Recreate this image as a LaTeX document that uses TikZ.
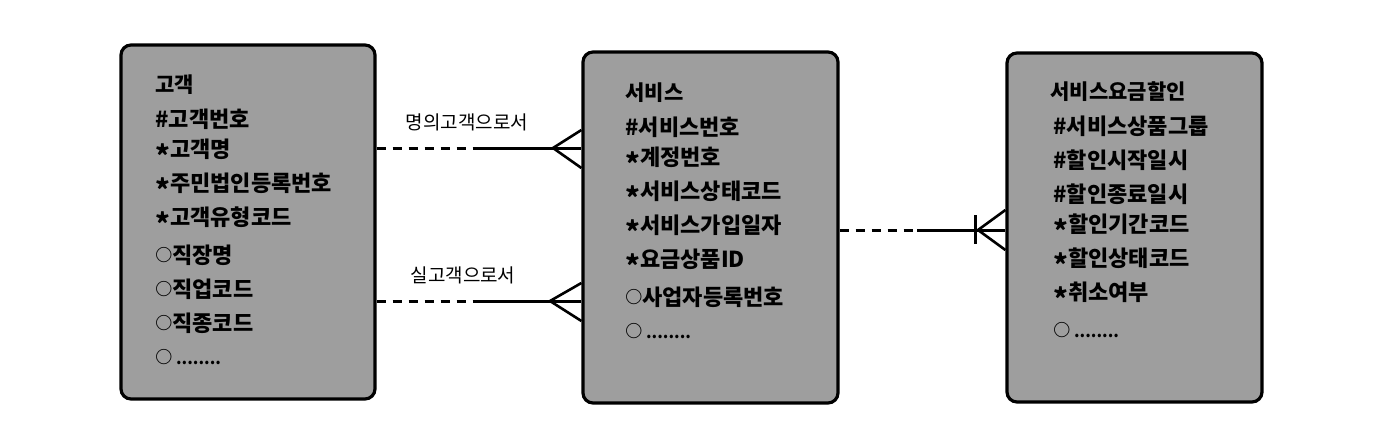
\documentclass[tikz,border=0pt]{standalone}
\usepackage{fontspec}
\usetikzlibrary{calc}
\setmainfont{Noto Sans CJK KR}
\newcommand{\ak}{{\fontsize{14}{14}\selectfont\raisebox{-0.32em}{*}}}
\newcommand{\oc}{{\fontsize{8.5}{8}\selectfont\raisebox{0.1em}{○}}}
\newcommand{\dd}{\,{\fontsize{8}{8}\selectfont ........}}
\begin{document}
\begin{tikzpicture}[x=0.5pt,y=-0.5pt,
  entity/.style={draw=black, line width=1.6pt, rounded corners=5pt, fill=black!38, inner sep=0},
  attr/.style={anchor=west, font=\fontsize{11}{12}\selectfont\bfseries, inner sep=0},
  ttl/.style={anchor=west, font=\fontsize{10.5}{12}\selectfont\bfseries, inner sep=0},
  lbl/.style={font=\fontsize{9.5}{11}\selectfont, inner sep=0},
  rel/.style={line width=1.5pt},
  reld/.style={line width=1.5pt, dash pattern=on 4.5pt off 3.5pt},
  foot/.style={line width=1.3pt}]
\useasboundingbox (0,0) rectangle (1396,434);
\fill[white] (0,0) rectangle (1396,434);
% entities
\node[entity, minimum width=127pt, minimum height=177pt] (b1) at (248,222) {};
\node[entity, minimum width=127.5pt, minimum height=175.5pt] (b2) at (710.5,227.5) {};
\node[entity, minimum width=127.5pt, minimum height=174.5pt] (b3) at (1134.5,227.5) {};
% box 1
\node[ttl] (t1) at (155,85) {고객};
\node[attr] (a11) at (155,119) {\#고객번호};
\node[attr] (a12) at (155,153) {\ak 고객명};
\node[attr] (a13) at (155,187) {\ak 주민법인등록번호};
\node[attr] (a14) at (155,221) {\ak 고객유형코드};
\node[attr] (a15) at (155,255) {\oc 직장명};
\node[attr] (a16) at (155,289) {\oc 직업코드};
\node[attr] (a17) at (155,323) {\oc 직종코드};
\node[attr] (a18) at (155,357) {\oc\dd};
% box 2
\node[ttl] (t2) at (625,93) {서비스};
\node[attr] (a21) at (625,127) {\#서비스번호};
\node[attr] (a22) at (625,161) {\ak 계정번호};
\node[attr] (a23) at (625,195) {\ak 서비스상태코드};
\node[attr] (a24) at (625,229) {\ak 서비스가입일자};
\node[attr] (a25) at (625,263) {\ak 요금상품ID};
\node[attr] (a26) at (625,297) {\oc 사업자등록번호};
\node[attr] (a27) at (625,331) {\oc\dd};
% box 3
\node[ttl] (t3) at (1050,92) {서비스요금할인};
\node[attr] (a31) at (1053,126) {\#서비스상품그룹};
\node[attr] (a32) at (1053,160) {\#할인시작일시};
\node[attr] (a33) at (1053,194) {\#할인종료일시};
\node[attr] (a34) at (1053,228) {\ak 할인기간코드};
\node[attr] (a35) at (1053,262) {\ak 할인상태코드};
\node[attr] (a36) at (1053,296) {\ak 취소여부};
\node[attr] (a37) at (1053,330) {\oc\dd};
% relationship labels
\node[lbl] (l1) at (467,122) {명의고객으로서};
\node[lbl] (l2) at (463,275) {실고객으로서};
% upper relationship
\coordinate (u0) at (b1.east |- 0,148);
\coordinate (um) at (475,148);
\coordinate (ua) at (553,148);
\coordinate (u1) at (b2.west |- 0,148);
\draw[reld] (u0) -- (um);
\draw[rel] (um) -- (u1);
\draw[foot] ($(u1)+(0,-18)$) -- (ua) -- ($(u1)+(0,20)$);
% lower relationship
\coordinate (v0) at (b1.east |- 0,301);
\coordinate (vm) at (473,301);
\coordinate (va) at (550,301);
\coordinate (v1) at (b2.west |- 0,301);
\draw[reld] (v0) -- (vm);
\draw[rel] (vm) -- (v1);
\draw[foot] ($(v1)+(0,-18)$) -- (va) -- ($(v1)+(0,20)$);
% right relationship
\coordinate (w0) at (b2.east |- 0,230);
\coordinate (wm) at (917,230);
\coordinate (wa) at (978,230);
\coordinate (w1) at (b3.west |- 0,230);
\draw[reld] (w0) -- (wm);
\draw[rel] (wm) -- (w1);
\draw[foot] ($(w1)+(0,-20)$) -- (wa) -- ($(w1)+(0,20)$);
\draw[rel] (975,215) -- (975,244);
\end{tikzpicture}
\end{document}
